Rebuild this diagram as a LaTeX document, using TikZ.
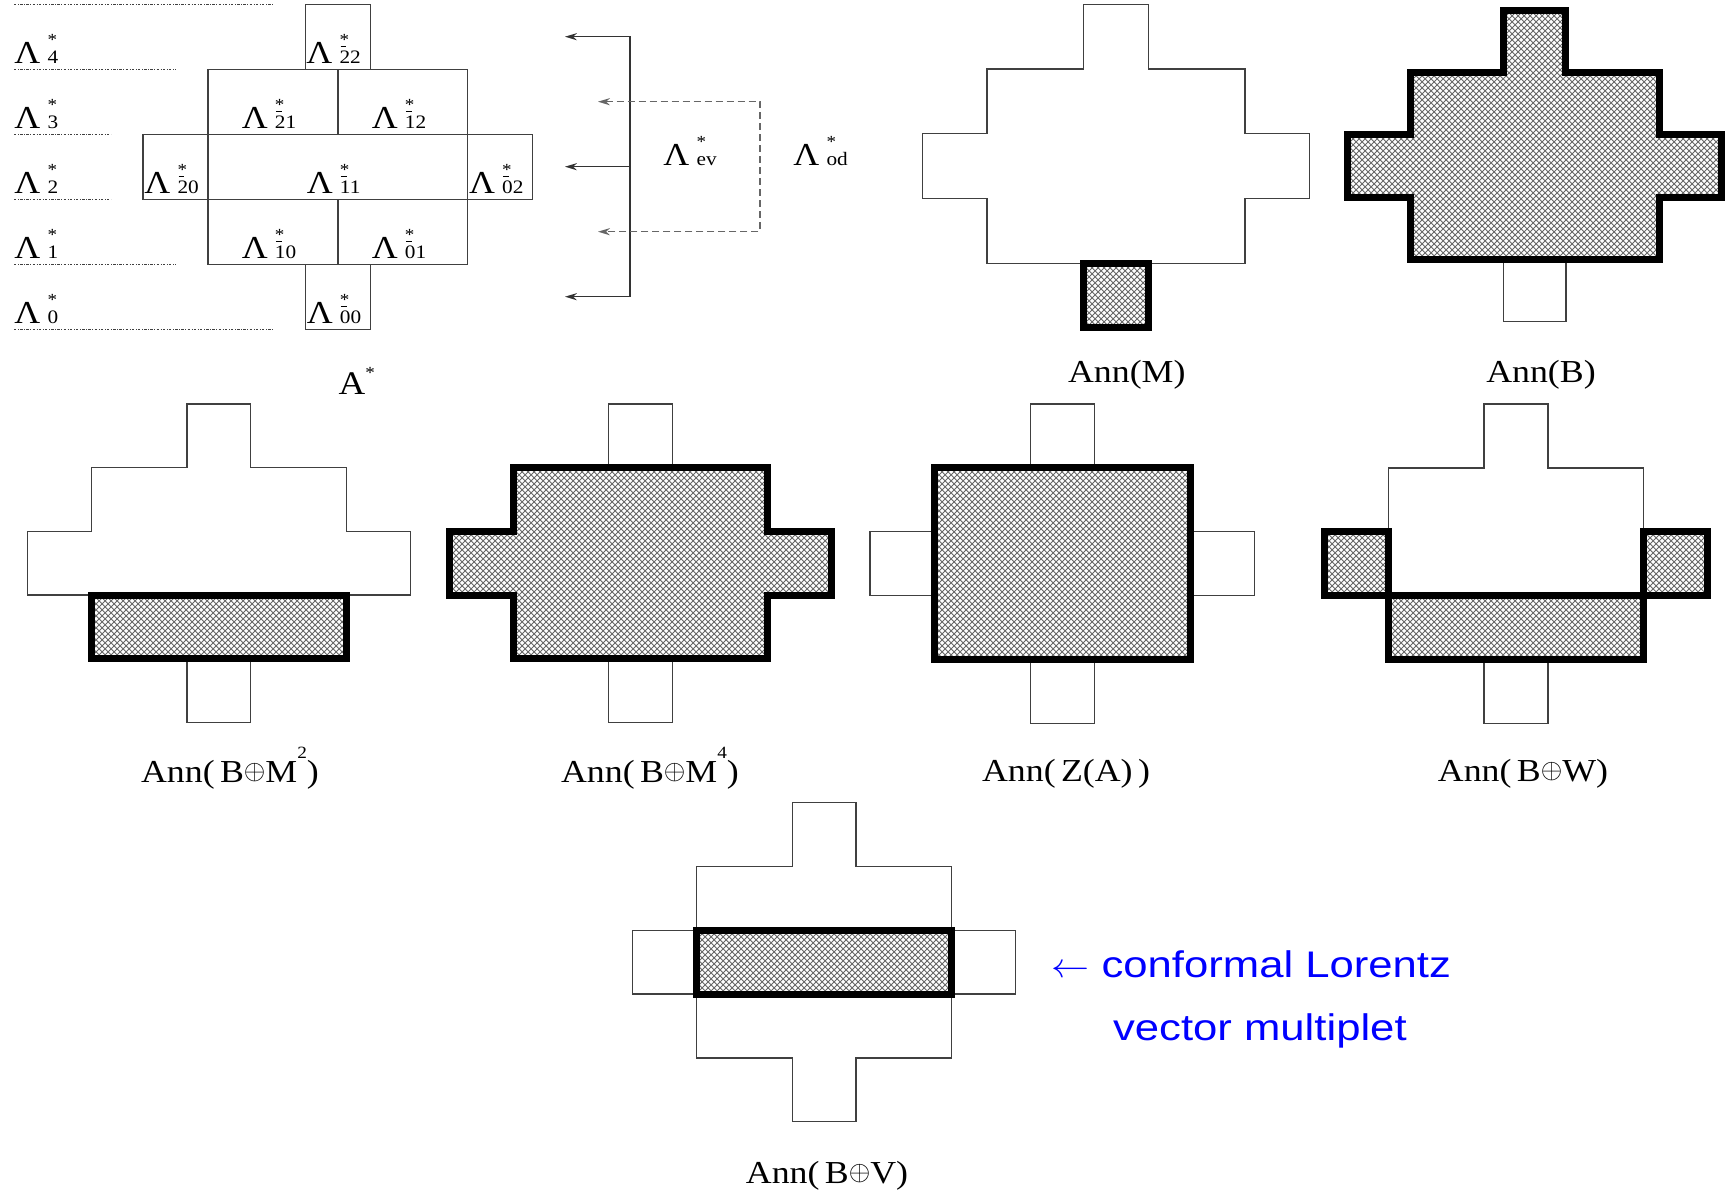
\documentclass[tikz,border=0pt]{standalone}
\usepackage{fontspec}
\setmainfont{Liberation Serif}
\newfontfamily\figfont[FakeStretch=1.12]{Liberation Serif}
\newfontfamily\notefont[FakeStretch=1.18]{Liberation Sans}
\usetikzlibrary{arrows.meta,patterns}

\newcommand{\lam}[1]{Λ\kern3.6pt\rlap{\raisebox{9pt}{\fontsize{8.5}{9}\selectfont *}}{\fontsize{9.5}{10}\selectfont #1}}
\newcommand{\bd}[1]{\rlap{\kern0.05em\raisebox{0.9em}{\rule{0.3em}{0.5pt}}}#1}
\newcommand{\sups}[1]{\raisebox{12pt}{\fontsize{8.6}{9}\selectfont #1}}
\newcommand{\dsum}{\raisebox{1.2pt}{\scalebox{0.8}{$\oplus$}}}

\definecolor{noteblue}{RGB}{0,0,255}

\tikzset{
	thinline/.style={draw=black!75, line width=0.65pt},
	hatched/.style={draw=black, line width=3.5pt, pattern=crosshatch, pattern color=black!60},
	levelline/.style={draw=black!75, line width=0.5pt, dash pattern=on 1.2pt off 0.8pt on 0.3pt off 0.8pt},
	evline/.style={draw=black!80, line width=0.6pt},
	odline/.style={draw=black!60, line width=0.6pt, dash pattern=on 3.5pt off 2pt},
	lamlabel/.style={inner sep=0pt, anchor=base west, font=\figfont\fontsize{16}{19}\selectfont},
	annlabel/.style={inner sep=0pt, anchor=base, font=\figfont\fontsize{16}{19}\selectfont},
	notelabel/.style={inner sep=0pt, anchor=base west, text=noteblue, font=\notefont\fontsize{18.5}{22}\selectfont},
	pics/annshape/.style={code={
		\draw[thinline] (-0.5,-2.5) -- (0.5,-2.5) -- (0.5,-1.5) -- (2,-1.5) -- (2,-0.5) -- (3,-0.5) -- (3,0.5) -- (2,0.5) -- (2,1.5) -- (0.5,1.5) -- (0.5,2.5) -- (-0.5,2.5) -- (-0.5,1.5) -- (-2,1.5) -- (-2,0.5) -- (-3,0.5) -- (-3,-0.5) -- (-2,-0.5) -- (-2,-1.5) -- (-0.5,-1.5) -- cycle;
	}}
}

\begin{document}
\begin{tikzpicture}[x=0.5pt,y=0.5pt,yscale=-1,xscale=1,>={Stealth[length=6pt,width=3.6pt]}]
	\useasboundingbox (0,0) rectangle (1734,1192);

	%Shape: Grid of A* 
	\begin{scope}[shift={(337.9,166.8)},xscale=64.95,yscale=65]
		\draw[thinline] (-0.5,-2.5) rectangle (0.5,-1.5);
		\draw[thinline] (-2,-1.5) rectangle (0,-0.5);
		\draw[thinline] (0,-1.5) rectangle (2,-0.5);
		\draw[thinline] (-3,-0.5) rectangle (-2,0.5);
		\draw[thinline] (-2,-0.5) rectangle (2,0.5);
		\draw[thinline] (2,-0.5) rectangle (3,0.5);
		\draw[thinline] (-2,0.5) rectangle (0,1.5);
		\draw[thinline] (0,0.5) rectangle (2,1.5);
		\draw[thinline] (-0.5,1.5) rectangle (0.5,2.5);
	\end{scope}
	%Level lines
	\foreach \y/\len in {4.3/273, 69.3/176, 134.3/111, 199.3/111, 264.3/176, 329.3/273}
		\draw[levelline] (14,\y) -- (\len,\y);

	% Text Node
	\node[lamlabel] (lamfour) at (14,64) {\lam{4}};
	\node[lamlabel] (lamthree) at (14,129) {\lam{3}};
	\node[lamlabel] (lamtwo) at (14,194) {\lam{2}};
	\node[lamlabel] (lamone) at (14,259) {\lam{1}};
	\node[lamlabel] (lamzero) at (14,324) {\lam{0}};
	% Text Node
	\node[lamlabel] (l22) at (306,64) {\lam{\bd{2}2}};
	\node[lamlabel] (l21) at (241.4,129) {\lam{\bd{2}1}};
	\node[lamlabel] (l12) at (371.4,129) {\lam{\bd{1}2}};
	\node[lamlabel] (l20) at (144,194) {\lam{\bd{2}0}};
	\node[lamlabel] (l11) at (306.4,194) {\lam{\bd{1}1}};
	\node[lamlabel] (l02) at (468.6,194) {\lam{\bd{0}2}};
	\node[lamlabel] (l10) at (241.4,259) {\lam{\bd{1}0}};
	\node[lamlabel] (l01) at (371.4,259) {\lam{\bd{0}1}};
	\node[lamlabel] (l00) at (306.4,324) {\lam{\bd{0}0}};
	% Text Node
	\node[lamlabel, font=\figfont\fontsize{16.5}{19}\selectfont] (astar) at (338.3,394) {A\raisebox{7.8pt}{\fontsize{8.5}{9}\selectfont *}};

	%Arrows: even and odd parts
	\coordinate (spineT) at (630,36.7);
	\coordinate (spineM) at (630,166.7);
	\coordinate (spineB) at (630,296.7);
	\coordinate (tipT) at (565,36.7);
	\coordinate (tipM) at (565,166.7);
	\coordinate (tipB) at (565,296.7);
	\coordinate (oddT) at (760,101.7);
	\coordinate (oddB) at (760,231.7);
	\coordinate (otipT) at (598,101.7);
	\coordinate (otipB) at (598,231.7);
	\draw[evline,<->] (tipT) -- (spineT) -- (spineB) -- (tipB);
	\draw[evline,->] (spineM) -- (tipM);
	\draw[odline,<->] (otipT) -- (oddT) -- (oddB) -- (otipB);
	% Text Node
	\node[lamlabel] (lamev) at (663,166) {\lam{ev}};
	\node[lamlabel] (lamod) at (793,166) {\lam{od}};

	%Shape: Ann(M)
	\begin{scope}[shift={(1116,166.2)},xscale=64.55,yscale=64.7]
		\pic[transform shape] {annshape};
		\draw[hatched] (-0.5,1.5) rectangle (0.5,2.5);
	\end{scope}
	%Shape: Ann(B)
	\begin{scope}[shift={(1534.8,165.9)},xscale=62.3,yscale=62.3]
		\pic[transform shape] {annshape};
		\draw[hatched] (-0.5,-2.5) -- (0.5,-2.5) -- (0.5,-1.5) -- (2,-1.5) -- (2,-0.5) -- (3,-0.5) -- (3,0.5) -- (2,0.5) -- (2,1.5) -- (-2,1.5) -- (-2,0.5) -- (-3,0.5) -- (-3,-0.5) -- (-2,-0.5) -- (-2,-1.5) -- (-0.5,-1.5) -- cycle;
	\end{scope}
	%Shape: Ann(B+M^2)
	\begin{scope}[shift={(218.9,563.2)},xscale=63.8,yscale=63.7]
		\pic[transform shape] {annshape};
		\draw[hatched] (-2,0.5) rectangle (2,1.5);
	\end{scope}
	%Shape: Ann(B+M^4)
	\begin{scope}[shift={(640.5,563.3)},xscale=63.7,yscale=63.7]
		\pic[transform shape] {annshape};
		\draw[hatched] (-2,-1.5) -- (2,-1.5) -- (2,-0.5) -- (3,-0.5) -- (3,0.5) -- (2,0.5) -- (2,1.5) -- (-2,1.5) -- (-2,0.5) -- (-3,0.5) -- (-3,-0.5) -- (-2,-0.5) -- cycle;
	\end{scope}
	%Shape: Ann(Z(A))
	\begin{scope}[shift={(1062.3,563.7)},xscale=64.1,yscale=63.9]
		\pic[transform shape] {annshape};
		\draw[hatched] (-2,-1.5) rectangle (2,1.5);
	\end{scope}
	%Shape: Ann(B+W)
	\begin{scope}[shift={(1516,563.7)},xscale=63.75,yscale=63.9]
		\pic[transform shape] {annshape};
		\draw[hatched] (-3,-0.5) rectangle (-2,0.5);
		\draw[hatched] (2,-0.5) rectangle (3,0.5);
		\draw[hatched] (-2,0.5) rectangle (2,1.5);
	\end{scope}
	%Shape: Ann(B+V)
	\begin{scope}[shift={(824.2,962.2)},xscale=63.8,yscale=63.8]
		\pic[transform shape] {annshape};
		\draw[hatched] (-2,-0.5) rectangle (2,0.5);
	\end{scope}

	% Text Node
	\node[annlabel] (annM) at (1126.8,383) {Ann(M)};
	\node[annlabel] (annB) at (1541,383) {Ann(B)};
	\node[annlabel] (annBMtwo) at (230,782) {Ann(\,B\dsum M\sups{2})};
	\node[annlabel] (annBMfour) at (650,782) {Ann(\,B\dsum M\sups{4})};
	\node[annlabel] (annZA) at (1066,781) {Ann(\,Z(A)\,)};
	\node[annlabel] (annBW) at (1523,781) {Ann(\,B\dsum W)};
	\node[annlabel] (annBV) at (827,1183) {Ann(\,B\dsum V)};
	% Text Node
	\node[notelabel] (conf) at (1051,977) {\scalebox{1.1}[1]{$\leftarrow$}\ conformal Lorentz};
	\node[notelabel] (vmul) at (1112.7,1040) {vector multiplet};

\end{tikzpicture}
\end{document}
